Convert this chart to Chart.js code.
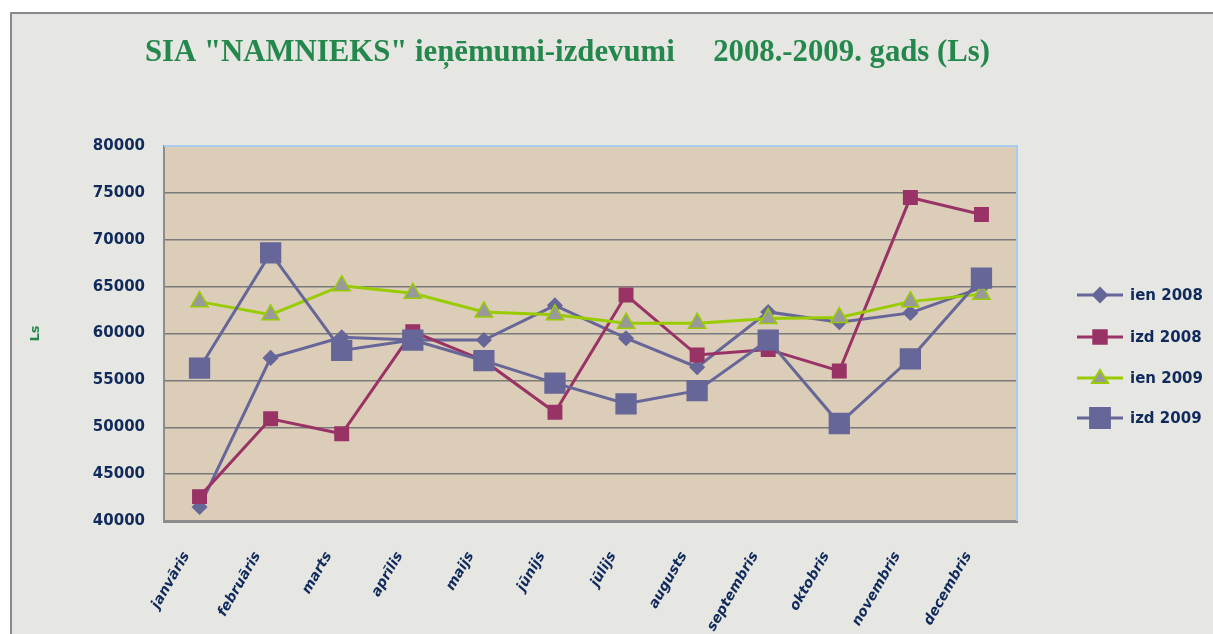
<!DOCTYPE html>
<html>
<head>
<meta charset="utf-8">
<script src="https://cdn.jsdelivr.net/npm/chart.js"></script>
<style>
  html, body { margin: 0; padding: 0; background: #ffffff; }
  #wrap { width: 1213px; height: 634px; }
</style>
</head>
<body>
<div id="wrap"><canvas id="namnieks"></canvas></div>
<script>
const months = ['janvāris', 'februāris', 'marts', 'aprīlis', 'maijs', 'jūnijs',
                'jūlijs', 'augusts', 'septembris', 'oktobris', 'novembris', 'decembris'];
const ien2008 = [41500, 57400, 59600, 59300, 59300, 63000, 59500, 56400, 62300, 61200, 62200, 64900];
const izd2008 = [42600, 50900, 49300, 60200, 57100, 51600, 64100, 57700, 58300, 56000, 74500, 72700];
const ien2009 = [63400, 62000, 65100, 64300, 62300, 62000, 61100, 61100, 61600, 61700, 63400, 64200];
const izd2009 = [56300, 68600, 58200, 59300, 57100, 54700, 52500, 53900, 59300, 50400, 57300, 65900];
const seriesNames = ['ien 2008', 'izd 2008', 'ien 2009', 'izd 2009'];
const yTicks = [40000, 45000, 50000, 55000, 60000, 65000, 70000, 75000, 80000];

const navy = '#102a5c';
const styles = [
    { line: '#666699', fill: '#666699', point: 'rectRot', r: 7, order: 4 },
    { line: '#993366', fill: '#993366', point: 'rect', r: 9.5, order: 3 },
    { line: '#99cc00', fill: '#999999', point: 'triangle', r: 10, order: 2 },
    { line: '#666699', fill: '#666699', point: 'rect', r: 14, order: 1 }
];

//background, plot area, frame, title and legend
const decorPlugin = {
    id: 'decor',
    beforeDraw(chart) {
        const ctx = chart.ctx, a = chart.chartArea;
        ctx.save();
        ctx.fillStyle = '#e6e6e2';
        ctx.fillRect(10, 12, chart.width - 10, chart.height - 12);
        ctx.strokeStyle = '#8a8a8a';
        ctx.lineWidth = 2;
        ctx.beginPath();
        ctx.moveTo(11, chart.height);
        ctx.lineTo(11, 13);
        ctx.lineTo(chart.width, 13);
        ctx.stroke();
        ctx.fillStyle = '#dbcdb8';
        ctx.fillRect(a.left, a.top, a.right - a.left, a.bottom - a.top);
        ctx.restore();
    },
    afterDraw(chart) {
        const ctx = chart.ctx, a = chart.chartArea;
        ctx.save();
        ctx.strokeStyle = '#a9cbf0';
        ctx.lineWidth = 2;
        ctx.beginPath();
        ctx.moveTo(a.left, a.top);
        ctx.lineTo(a.right, a.top);
        ctx.lineTo(a.right, a.bottom);
        ctx.stroke();

        // title
        const title = 'SIA "NAMNIEKS" ieņēmumi-izdevumi     2008.-2009. gads (Ls)';
        ctx.font = 'bold 32px "Liberation Serif"';
        ctx.fillStyle = '#24874c';
        ctx.textBaseline = 'middle';
        ctx.textAlign = 'left';
        const w = ctx.measureText(title).width;
        const sx = 845 / w;
        ctx.translate(145, 53);
        ctx.scale(sx, 1);
        ctx.fillText(title, 0, 0);
        ctx.setTransform(1, 0, 0, 1, 0, 0);

        // legend
        const ys = [295, 337, 378, 418];
        ctx.font = 'bold 15px "DejaVu Sans"';
        for (let i = 0; i < 4; ++i) {
            const s = styles[i], y = ys[i], cx = 1100;
            ctx.strokeStyle = s.line;
            ctx.lineWidth = 3;
            ctx.beginPath();
            ctx.moveTo(1077, y);
            ctx.lineTo(1123, y);
            ctx.stroke();
            ctx.fillStyle = s.fill;
            ctx.strokeStyle = s.line;
            ctx.lineWidth = 2;
            ctx.beginPath();
            if (s.point === 'rectRot') {
                ctx.moveTo(cx, y - 7); ctx.lineTo(cx + 7, y); ctx.lineTo(cx, y + 7); ctx.lineTo(cx - 7, y);
            } else if (s.point === 'triangle') {
                ctx.moveTo(cx, y - 8); ctx.lineTo(cx + 8, y + 5); ctx.lineTo(cx - 8, y + 5);
            } else {
                const h = s.r * Math.SQRT1_2;
                ctx.rect(cx - h, y - h, 2 * h, 2 * h);
            }
            ctx.closePath();
            ctx.fill();
            ctx.stroke();
            ctx.fillStyle = navy;
            ctx.textAlign = 'left';
            ctx.fillText(seriesNames[i], 1130, y + 1);
        }
        ctx.restore();
    }
};

const seriesData = [ien2008, izd2008, ien2009, izd2009];
const datasets = seriesData.map((d, i) => ({
    label: seriesNames[i],
    data: d,
    borderColor: styles[i].line,
    backgroundColor: styles[i].fill,
    pointBorderColor: styles[i].line,
    pointBackgroundColor: styles[i].fill,
    pointStyle: styles[i].point,
    pointRadius: styles[i].r,
    pointHoverRadius: styles[i].r,
    pointBorderWidth: 1.5,
    borderWidth: 3,
    order: styles[i].order,
    tension: 0,
    fill: false
}));

new Chart(document.getElementById('namnieks').getContext('2d'), {
    type: 'line',
    data: { labels: months, datasets: datasets },
    options: {
        responsive: true,
        maintainAspectRatio: false,
        animation: false,
        layout: { padding: { top: 146, right: 196, left: 0, bottom: 0 } },
        plugins: {
            legend: { display: false },
            title: { display: false },
            tooltip: { enabled: false }
        },
        scales: {
            x: {
                offset: true,
                grid: { display: false },
                border: { display: true, color: '#8c8c8c', width: 3 },
                afterFit: (axis) => { axis.height = 113; },
                ticks: {
                    color: navy,
                    font: { family: '"DejaVu Sans"', size: 14, weight: 'bold', style: 'italic' },
                    minRotation: 60,
                    maxRotation: 60,
                    autoSkip: false,
                    labelOffset: -13,
                    padding: 20
                }
            },
            y: {
                min: 40000,
                max: 80000,
                afterFit: (axis) => { axis.width = 164; },
                afterBuildTicks: (axis) => { axis.ticks = yTicks.map((v) => ({ value: v })); },
                grid: { color: '#7a7a7a', lineWidth: 1.5, drawTicks: false },
                border: { display: true, color: '#8c8c8c', width: 2 },
                title: {
                    display: true,
                    text: 'Ls',
                    color: '#24874c',
                    font: { family: '"DejaVu Sans"', size: 13, weight: 'bold' },
                    padding: { top: 28, bottom: 0 }
                },
                ticks: {
                    color: navy,
                    font: { family: '"DejaVu Sans"', size: 15, weight: 'bold' },
                    padding: 19,
                    callback: (v) => String(v)
                }
            }
        }
    },
    plugins: [decorPlugin]
});
</script>
</body>
</html>
